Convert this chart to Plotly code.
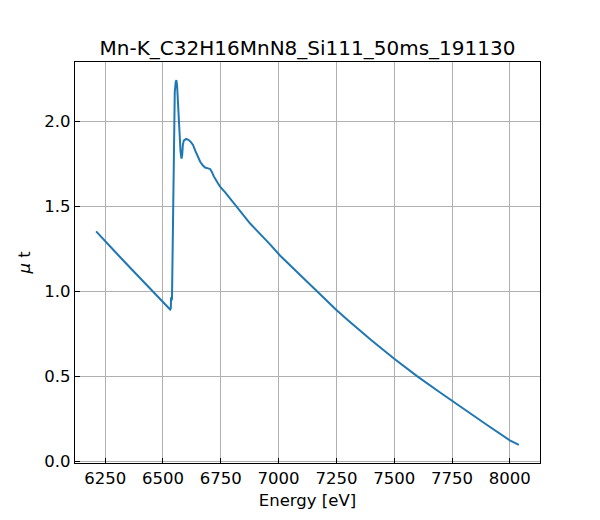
import plotly.graph_objects as go

# Mn K-edge XAFS scan
energy = [6211, 6250, 6300, 6350, 6400, 6450, 6500, 6520, 6531, 6534, 6535, 6537,
          6539, 6541, 6543, 6545, 6548, 6551, 6555, 6558, 6561, 6564, 6568, 6572,
          6576, 6580, 6583, 6586, 6590, 6600, 6610, 6620, 6630, 6640, 6650, 6661,
          6672, 6682, 6695, 6704, 6712, 6720, 6735, 6747, 6770, 6790, 6810, 6826,
          6850, 6877, 6900, 6927, 6960, 7006, 7050, 7100, 7165, 7250, 7300, 7400,
          7500, 7600, 7700, 7750, 7800, 7900, 8000, 8039]
mu_t = [1.352, 1.293, 1.222, 1.150, 1.078, 1.005, 0.935, 0.907, 0.893, 0.900, 0.965, 0.945,
        0.960, 1.20, 1.50, 1.77, 2.05, 2.17, 2.23, 2.24, 2.21, 2.12, 2.00, 1.90,
        1.82, 1.78, 1.80, 1.86, 1.885, 1.895, 1.890, 1.878, 1.860, 1.825, 1.790, 1.761,
        1.740, 1.727, 1.722, 1.718, 1.700, 1.675, 1.640, 1.614, 1.580, 1.545, 1.513, 1.486,
        1.445, 1.398, 1.365, 1.329, 1.280, 1.210, 1.152, 1.087, 1.003, 0.890, 0.830, 0.714,
        0.604, 0.500, 0.404, 0.356, 0.309, 0.216, 0.124, 0.098]

x_ticks = [6250, 6500, 6750, 7000, 7250, 7500, 7750, 8000]
y_ticks = [0.0, 0.5, 1.0, 1.5, 2.0]

title = "Mn-K_C32H16MnN8_Si111_50ms_191130"

fig = go.Figure()
fig.add_trace(go.Scatter(x=energy, y=mu_t, mode="lines",
                         line=dict(color="#1f77b4", width=2), showlegend=False))

axis_style = dict(showline=True, linecolor="black", linewidth=1.3, mirror=True,
                  ticks="inside", ticklen=5, tickcolor="black", tickwidth=1,
                  showgrid=True, gridcolor="#b0b0b0", gridwidth=1, zeroline=False,
                  tickfont=dict(size=16.5, color="black"))

# page body adds 8px around the figure, so the figure is 8px smaller than the window
fig.update_layout(
    width=592, height=512,
    paper_bgcolor="white", plot_bgcolor="white",
    font=dict(family="DejaVu Sans", color="black"),
    margin=dict(l=67, r=60, t=54, b=57),
    title=dict(text=title, x=0.5, xanchor="center", y=1 - 40 / 512, yanchor="middle",
               yref="container", xref="paper", font=dict(size=20)),
    xaxis=dict(range=[6119.6, 8130.4], tickvals=x_ticks,
               title=dict(text="Energy [eV]", font=dict(size=16.5), standoff=7), **axis_style),
    yaxis=dict(range=[-0.009, 2.347], tickvals=y_ticks, tickformat=".1f",
               title=dict(text="<i>μ</i> t", font=dict(size=16.5), standoff=9), **axis_style),
)

fig.write_html("out.html")
